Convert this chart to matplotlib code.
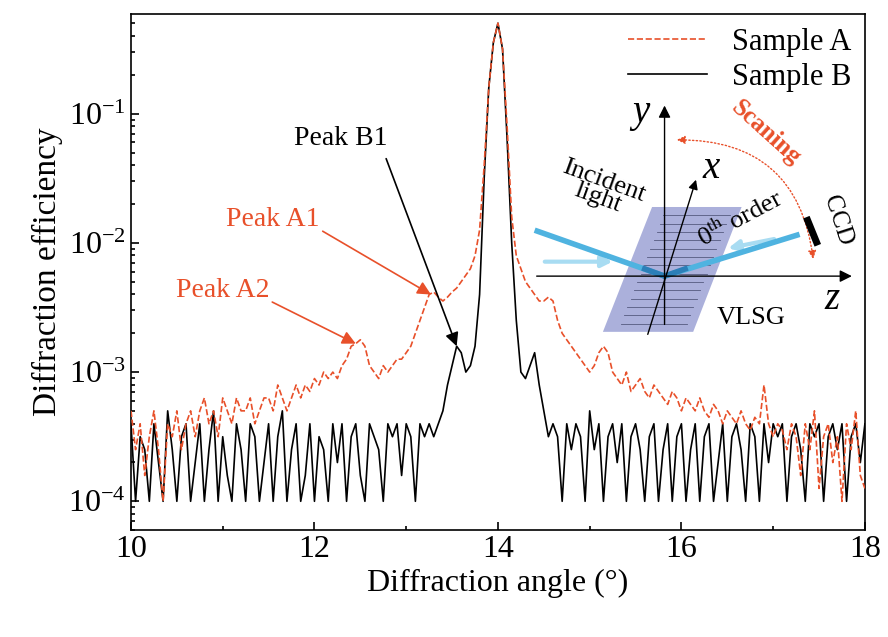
import numpy as np
import matplotlib
matplotlib.use("Agg")
import matplotlib.pyplot as plt
from matplotlib.patches import Polygon, FancyArrowPatch
from matplotlib.ticker import LogLocator, MultipleLocator

plt.rcParams['font.family'] = ['Liberation Serif', 'DejaVu Serif']
plt.rcParams['mathtext.fontset'] = 'stix'

RED = '#e8502a'

# diffraction angle grid (deg), 0.05 step
angle = np.linspace(10, 18, 161)

# log10 of diffraction efficiency
sample_b_log = [
    -3.4, -4, -3.5, -3.6, -4, -3.4, -3.7, -4, -3.3, -3.6,
    -4, -3.5, -3.4, -4, -3.7, -3.4, -4, -3.6, -3.3, -4,
    -3.5, -3.8, -4, -3.4, -3.6, -4, -3.4, -3.5, -4, -3.7,
    -3.4, -4, -3.5, -3.3, -4, -3.6, -3.4, -4, -3.8, -3.4,
    -4, -3.5, -3.6, -4, -3.4, -3.7, -3.4, -4, -3.5, -3.4,
    -3.8, -4, -3.4, -3.5, -3.6, -4, -3.4, -3.5, -3.4, -3.8,
    -3.4, -3.5, -4, -3.4, -3.5, -3.4, -3.5, -3.4,
    -3.3, -3.1, -2.95, -2.8, -2.85, -3.0, -2.95, -2.8, -2.4, -1.5,
    -0.8, -0.45, -0.3, -0.5, -1.2, -2.0, -2.6, -3.0, -3.05, -2.95,
    -2.85, -3.1, -3.3, -3.5,
    -3.4, -3.5, -4, -3.4, -3.6, -3.4, -3.5, -4, -3.3, -3.6,
    -3.4, -4, -3.5, -3.4, -3.7, -3.4, -4, -3.5, -3.4, -3.6,
    -4, -3.5, -3.4, -4, -3.6, -3.4, -4, -3.5, -3.4, -4,
    -3.6, -3.4, -4, -3.5, -3.4, -4, -3.7, -3.4, -4, -3.5,
    -3.4, -3.6, -4, -3.4, -3.5, -4, -3.4, -3.7, -3.4, -3.5,
    -3.4, -4, -3.5, -3.4, -3.6, -4, -3.4, -3.5, -3.4, -4,
    -3.5, -3.4, -3.6, -3.4, -4, -3.5, -3.4, -3.7, -3.4,
]

sample_a_log = [
    -3.3, -3.6, -3.4, -3.8, -3.5, -3.3, -3.6, -4.0, -3.4, -3.5,
    -3.3, -3.6, -3.4, -3.3, -3.5, -3.3, -3.2, -3.4, -3.3, -3.5,
    -3.2, -3.3, -3.4, -3.2, -3.3, -3.3, -3.2, -3.4, -3.3, -3.2,
    -3.2, -3.3, -3.1, -3.2, -3.3, -3.2, -3.1, -3.2, -3.1, -3.15,
    -3.05, -3.1, -3.0, -3.05, -3.0, -3.05, -2.95, -2.9,
    -2.8, -2.78, -2.75, -2.8, -2.95, -3.0, -3.05, -2.95, -3.0, -2.95,
    -2.9, -2.9, -2.85, -2.8, -2.7, -2.6, -2.5, -2.4, -2.38, -2.42,
    -2.45, -2.42, -2.38, -2.35, -2.3, -2.25, -2.2, -2.1, -1.9, -1.4,
    -0.8, -0.45, -0.3, -0.5, -1.1, -1.8, -2.1, -2.2, -2.3, -2.35,
    -2.4, -2.45, -2.45, -2.42,
    -2.45, -2.6, -2.7, -2.75, -2.8, -2.85, -2.9, -2.95, -3.0, -2.95,
    -2.85, -2.8, -2.85, -3.0, -3.05, -3.1, -3.0, -3.15, -3.1, -3.05,
    -3.15, -3.2, -3.1, -3.15, -3.2, -3.25, -3.15, -3.2, -3.3, -3.2,
    -3.25, -3.3, -3.2, -3.3, -3.35, -3.25, -3.3, -3.4, -3.3, -3.35,
    -3.4, -3.3, -3.4, -3.45, -3.35, -3.4, -3.1, -3.4, -3.5, -3.4,
    -3.45, -3.6, -3.4, -3.5, -3.8, -3.4, -3.6, -3.3, -3.9, -3.5,
    -3.4, -3.7, -3.5, -4.0, -3.4, -3.6, -3.3, -3.8, -3.9,
]

sample_a = 10.0 ** np.array(sample_a_log)
sample_b = 10.0 ** np.array(sample_b_log)

fig = plt.figure(figsize=(8.88, 6.37), dpi=100)
ax = fig.add_axes([0.1475, 0.168, 0.8265, 0.81])

ax.plot(angle, sample_a, color=RED, ls='--', lw=1.2, label='Sample A', zorder=3)
ax.plot(angle, sample_b, color='black', lw=1.2, label='Sample B', zorder=2)

ax.set_yscale('log')
ax.set_xlim(10, 18)
ax.set_ylim(6.0e-5, 0.59)
ax.xaxis.set_major_locator(MultipleLocator(2))
ax.xaxis.set_minor_locator(MultipleLocator(1))
ax.yaxis.set_major_locator(LogLocator(base=10, numticks=10))
ax.yaxis.set_minor_locator(LogLocator(base=10, subs=np.arange(2, 10), numticks=20))
ax.tick_params(which='both', direction='in', labelsize=23, width=1.2)
ax.tick_params(which='major', length=6)
ax.tick_params(which='minor', length=3)
for s in ax.spines.values():
    s.set_linewidth(1.2)

ax.set_xlabel('Diffraction angle (°)', fontsize=23)
ax.set_ylabel('Diffraction efficiency', fontsize=24)

leg = ax.legend(loc='upper right', frameon=False, fontsize=22, handlelength=2.6,
                borderaxespad=0.05, labelspacing=0.2)

# peak annotations
ax.annotate('Peak B1', xy=(13.55, 10 ** -2.8), xytext=(12.29, 10 ** -1.19),
            fontsize=20, ha='center', va='center', color='black',
            arrowprops=dict(arrowstyle='-|>', color='black', lw=1.2,
                            shrinkA=4, shrinkB=0, relpos=(0.95, 0.0)))
ax.annotate('Peak A1', xy=(13.27, 10 ** -2.4), xytext=(11.55, 10 ** -1.82),
            fontsize=20, ha='center', va='center', color=RED,
            arrowprops=dict(arrowstyle='-|>', color=RED, lw=1.2,
                            shrinkA=0, shrinkB=0, relpos=(1.0, 0.1)))
ax.annotate('Peak A2', xy=(12.45, 10 ** -2.78), xytext=(11.0, 10 ** -2.37),
            fontsize=20, ha='center', va='center', color=RED,
            arrowprops=dict(arrowstyle='-|>', color=RED, lw=1.2,
                            shrinkA=0, shrinkB=0, relpos=(1.0, 0.1)))

# inset schematic, axes-fraction coordinates
T = ax.transAxes
ax.add_patch(Polygon([(0.643, 0.384), (0.766, 0.384), (0.832, 0.626), (0.710, 0.626)],
                     closed=True, transform=T, facecolor='#8f96d0', alpha=0.75,
                     edgecolor='none', zorder=4))
for yy in np.linspace(0.40, 0.61, 14):
    x0 = 0.643 + (yy - 0.384) / 0.242 * 0.067 + 0.02
    ax.plot([x0, x0 + 0.09], [yy, yy], transform=T, color='#555a80', lw=0.6, zorder=5)

ax.plot([0.550, 0.727, 0.911], [0.581, 0.492, 0.573], transform=T,
        color='#4fb3e0', lw=4, solid_capstyle='butt', zorder=6)
ax.plot([0.70, 0.727, 0.755], [0.506, 0.492, 0.506], transform=T,
        color='#2c7fb8', lw=4, zorder=6)
ax.annotate('', xy=(0.66, 0.52), xytext=(0.56, 0.52), xycoords=T,
            arrowprops=dict(arrowstyle='-|>', color='#a8dcf2', lw=3, mutation_scale=16), zorder=5)
ax.annotate('', xy=(0.81, 0.545), xytext=(0.88, 0.565), xycoords=T,
            arrowprops=dict(arrowstyle='-|>', color='#a8dcf2', lw=3, mutation_scale=16), zorder=5)

ax.annotate('', xy=(0.727, 0.828), xytext=(0.727, 0.393), xycoords=T,
            arrowprops=dict(arrowstyle='-|>', color='black', lw=1, mutation_scale=18), zorder=7)
ax.annotate('', xy=(0.986, 0.492), xytext=(0.549, 0.492), xycoords=T,
            arrowprops=dict(arrowstyle='-|>', color='black', lw=1, mutation_scale=18), zorder=7)
ax.annotate('', xy=(0.771, 0.684), xytext=(0.703, 0.374), xycoords=T,
            arrowprops=dict(arrowstyle='-|>', color='black', lw=1, mutation_scale=14), zorder=7)

ax.plot([0.922, 0.934], [0.600, 0.558], transform=T, color='black', lw=5, zorder=8)

arc = FancyArrowPatch((0.930, 0.520), (0.740, 0.756), transform=T,
                      connectionstyle='arc3,rad=0.45', arrowstyle='<|-|>',
                      mutation_scale=12, color=RED, lw=1, ls=':', zorder=7)
ax.add_patch(arc)

ax.text(0.695, 0.81, 'y', transform=T, fontsize=28, style='italic', ha='center', va='center')
ax.text(0.79, 0.70, 'x', transform=T, fontsize=28, style='italic', ha='center', va='center')
ax.text(0.955, 0.446, 'z', transform=T, fontsize=28, style='italic', ha='center', va='center')
ax.text(0.865, 0.77, 'Scaning', transform=T, fontsize=18, fontweight='bold', color=RED,
        rotation=-42, ha='center', va='center')
ax.text(0.963, 0.60, 'CCD', transform=T, fontsize=18, rotation=-72, ha='center', va='center')
ax.text(0.64, 0.66, 'Incident\nlight', transform=T, fontsize=19, rotation=-20,
        ha='center', va='center', linespacing=0.8, zorder=9)
ax.text(0.83, 0.605, r'0$^{\rm th}$ order', transform=T, fontsize=19, rotation=28,
        ha='center', va='center', zorder=9)
ax.text(0.845, 0.41, 'VLSG', transform=T, fontsize=19, ha='center', va='center', zorder=9)

fig.savefig('out.png', dpi=100)
